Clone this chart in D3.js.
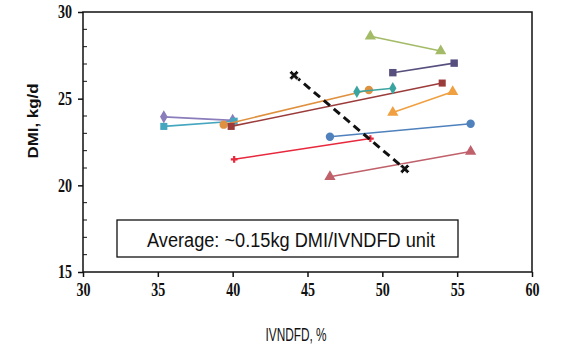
<!DOCTYPE html>
<html lang="en">
<head>
<meta charset="UTF-8"/>
<title>DMI vs IVNDFD</title>
<script src="https://d3js.org/d3.v7.min.js"></script>
<style>
    body { margin: 0; background: #fff; }
    .tick text { font-family: "Liberation Serif", serif; font-weight: bold; font-size: 18px; fill: #111; }
    .domain { display: none; }
</style>
</head>
<body>
<div id="chart"></div>
<script>
    // data
    var xTicks = [30, 35, 40, 45, 50, 55, 60];
    var yTicks = [15, 20, 25, 30];
    var seriesX = [
        [35.4, 40.0],
        [35.4, 40.1],
        [39.4, 49.1],
        [39.9, 54.0],
        [48.3, 50.7],
        [49.2, 53.9],
        [50.7, 54.8],
        [50.7, 54.7],
        [46.5, 55.9],
        [40.1, 49.2],
        [46.5, 55.9]
    ];
    var seriesY = [
        [23.95, 23.75],
        [23.4, 23.7],
        [23.5, 25.5],
        [23.4, 25.9],
        [25.4, 25.6],
        [28.6, 27.75],
        [26.5, 27.05],
        [24.2, 25.4],
        [22.8, 23.55],
        [21.5, 22.7],
        [20.5, 21.95]
    ];
    var trendX = [44.1, 51.5];
    var trendY = [26.35, 20.95];
    var note = "Average: ~0.15kg DMI/IVNDFD unit";

    // looks
    var colors = ["#8b7cbb", "#45a6bf", "#e0913f", "#9b3b3a", "#3aa5a0", "#a3bb66",
                  "#57507f", "#f0a040", "#4f81bd", "#e8283c", "#c0606a"];
    var symbols = [d3.symbolDiamond, d3.symbolSquare, d3.symbolCircle, d3.symbolSquare,
                   d3.symbolDiamond, d3.symbolTriangle, d3.symbolSquare, d3.symbolTriangle,
                   d3.symbolCircle, d3.symbolCross, d3.symbolTriangle];
    var sizes = [50, 50, 55, 50, 45, 55, 55, 55, 55, 25, 55];

    var w = 575, h = 352;
    var padL = 83, padR = 532, padT = 12, padB = 272;

    var svg = d3.select("#chart").append("svg")
        .attr("width", w).attr("height", h);

    var x = d3.scaleLinear().domain([30, 60]).range([padL, padR]);
    var y = d3.scaleLinear().domain([15, 30]).range([padB, padT]);

    // frame
    svg.append("rect")
        .attr("x", x(30)).attr("y", y(30))
        .attr("width", x(60) - x(30)).attr("height", y(15) - y(30))
        .attr("fill", "none").attr("stroke", "#111").attr("stroke-width", 1.5);

    // minor y ticks (inside)
    svg.append("g").selectAll("line")
        .data(d3.range(16, 30).filter(function(v){ return v % 5 != 0; }))
        .join("line")
        .attr("x1", x(30)).attr("x2", x(30) + 4)
        .attr("y1", function(d){ return y(d); }).attr("y2", function(d){ return y(d); })
        .attr("stroke", "#111").attr("stroke-width", 1);

    var xAxis = svg.append("g")
        .attr("transform", "translate(0," + padB + ")")
        .call(d3.axisBottom(x).tickValues(xTicks).tickSize(5).tickSizeOuter(0).tickPadding(4));
    xAxis.selectAll(".tick line").attr("stroke", "#111").attr("stroke-width", 1.5);
    xAxis.selectAll(".tick text").attr("transform", "scale(0.78,1)").attr("dy", "0.85em");

    var yAxis = svg.append("g")
        .attr("transform", "translate(" + padL + ",0)")
        .call(d3.axisLeft(y).tickValues(yTicks).tickSize(5).tickSizeOuter(0));
    yAxis.selectAll(".tick line").attr("stroke", "#111").attr("stroke-width", 1.5);
    yAxis.selectAll(".tick text").attr("x", -11 / 0.78).attr("transform", "scale(0.78,1)");

    // series
    var line = d3.line().x(function(d){ return x(d[0]); }).y(function(d){ return y(d[1]); });
    seriesX.forEach(function(xs, i) {
        var pts = xs.map(function(v, j){ return [v, seriesY[i][j]]; });
        svg.append("path")
            .attr("d", line(pts))
            .attr("fill", "none")
            .attr("stroke", colors[i])
            .attr("stroke-width", 1.6);
        svg.append("g").selectAll("path")
            .data(pts)
            .join("path")
            .attr("transform", function(d){ return "translate(" + x(d[0]) + "," + y(d[1]) + ")"; })
            .attr("d", d3.symbol().type(symbols[i]).size(sizes[i]))
            .attr("fill", colors[i]);
    });

    // dashed average trend
    var trend = trendX.map(function(v, j){ return [v, trendY[j]]; });
    svg.append("path")
        .attr("d", line(trend))
        .attr("fill", "none")
        .attr("stroke", "#111")
        .attr("stroke-width", 3)
        .attr("stroke-dasharray", "8,5");
    svg.append("g").selectAll("path")
        .data(trend)
        .join("path")
        .attr("transform", function(d){ return "translate(" + x(d[0]) + "," + y(d[1]) + ") rotate(45)"; })
        .attr("d", d3.symbol().type(d3.symbolCross).size(60))
        .attr("fill", "#111")
        .attr("stroke", "#fff").attr("stroke-width", 0.8);

    // note box
    svg.append("rect")
        .attr("x", 117).attr("y", 220)
        .attr("width", 341).attr("height", 37)
        .attr("fill", "#fff").attr("stroke", "#111").attr("stroke-width", 1.3);
    svg.append("text")
        .attr("x", 291).attr("y", 247)
        .attr("text-anchor", "middle")
        .attr("font-family", "'Liberation Sans Narrow', 'Liberation Sans', Arial, sans-serif")
        .attr("font-size", 20)
        .attr("textLength", 288).attr("lengthAdjust", "spacingAndGlyphs")
        .attr("fill", "#111")
        .text(note);

    // axis titles
    svg.append("text")
        .attr("x", 296).attr("y", 341)
        .attr("text-anchor", "middle")
        .attr("font-family", "'Liberation Sans Narrow', 'Liberation Sans', Arial, sans-serif")
        .attr("font-size", 18)
        .attr("textLength", 61).attr("lengthAdjust", "spacingAndGlyphs")
        .attr("fill", "#111")
        .text("IVNDFD,  %");
    svg.append("text")
        .attr("transform", "translate(38,121) rotate(-90)")
        .attr("text-anchor", "middle")
        .attr("font-family", "'Liberation Sans Narrow', 'Liberation Sans', Arial, sans-serif")
        .attr("font-weight", "bold")
        .attr("font-size", 14)
        .attr("textLength", 75).attr("lengthAdjust", "spacingAndGlyphs")
        .attr("fill", "#111")
        .text("DMI,  kg/d");
</script>
</body>
</html>
